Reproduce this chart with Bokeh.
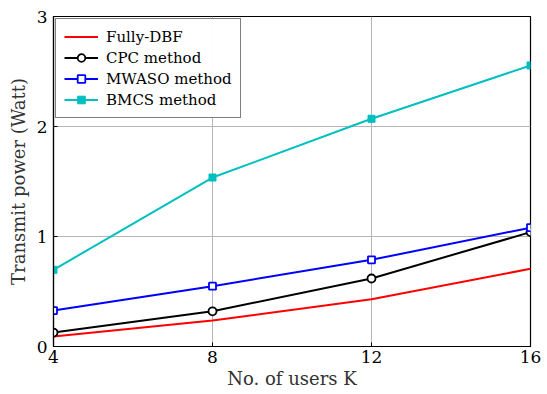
from bokeh.plotting import figure
from bokeh.models import Range1d, FixedTicker, Legend, LegendItem
from bokeh.embed import file_html
from bokeh.resources import INLINE

users = [4, 8, 12, 16]
fully_dbf = [0.09, 0.236, 0.43, 0.706]
cpc = [0.127, 0.32, 0.618, 1.04]
mwaso = [0.327, 0.548, 0.788, 1.08]
bmcs = [0.697, 1.536, 2.07, 2.555]
x_ticks = [4, 8, 12, 16]
y_ticks = [0, 1, 2, 3]

FONT = "DejaVu Serif"

p = figure(width=547, height=394, output_backend="svg", toolbar_location=None,
           x_range=Range1d(4, 16), y_range=Range1d(0, 3),
           min_border_left=53, min_border_right=17, min_border_top=16, min_border_bottom=48)

p.outline_line_color = "black"
p.outline_line_width = 1.2

for ax in (p.xaxis[0], p.yaxis[0]):
    ax.major_label_text_font = FONT
    ax.major_label_text_font_size = "17px"
    ax.axis_label_text_font = FONT
    ax.axis_label_text_font_size = "18px"
    ax.axis_label_text_font_style = "normal"
    ax.axis_label_text_color = "#333333"
    ax.major_label_text_color = "black"
    ax.major_tick_in = 4
    ax.major_tick_out = 0
    ax.minor_tick_line_color = None
    ax.axis_line_color = "black"
    ax.axis_line_width = 1.2

p.xaxis.ticker = FixedTicker(ticks=x_ticks)
p.yaxis.ticker = FixedTicker(ticks=y_ticks)
p.xaxis.axis_label = "No. of users K"
p.yaxis.axis_label = "Transmit power (Watt)"
p.xaxis.major_label_standoff = 4
p.yaxis.major_label_standoff = 6
p.xaxis.axis_label_standoff = 2
p.yaxis.axis_label_standoff = 5

p.grid.grid_line_color = "#b5b5b5"
p.grid.grid_line_width = 1

r1 = p.line(users, fully_dbf, line_color="#ff0000", line_width=2)
r2 = p.line(users, cpc, line_color="black", line_width=2)
r2m = p.scatter(users, cpc, marker="circle", size=8, line_color="black", fill_color="white", line_width=1.8)
r3 = p.line(users, mwaso, line_color="#0000ff", line_width=2)
r3m = p.scatter(users, mwaso, marker="square", size=7, line_color="#0000ff", fill_color="white", line_width=1.8)
r4 = p.line(users, bmcs, line_color="#00bfbf", line_width=2)
r4m = p.scatter(users, bmcs, marker="square", size=7, line_color="#00bfbf", fill_color="#00bfbf")

legend = Legend(items=[
    LegendItem(label="Fully-DBF", renderers=[r1]),
    LegendItem(label="CPC method", renderers=[r2, r2m]),
    LegendItem(label="MWASO method", renderers=[r3, r3m]),
    LegendItem(label="BMCS method", renderers=[r4, r4m]),
], location="top_left")
legend.label_text_font = FONT
legend.label_text_font_size = "15px"
legend.label_text_color = "black"
legend.border_line_color = "black"
legend.border_line_width = 1
legend.margin = 2
legend.padding = 8
legend.spacing = 2
legend.glyph_width = 34
legend.label_standoff = 8
legend.label_height = 19
legend.glyph_height = 19
p.add_layout(legend)

open("out.html", "w").write(file_html(p, INLINE))
